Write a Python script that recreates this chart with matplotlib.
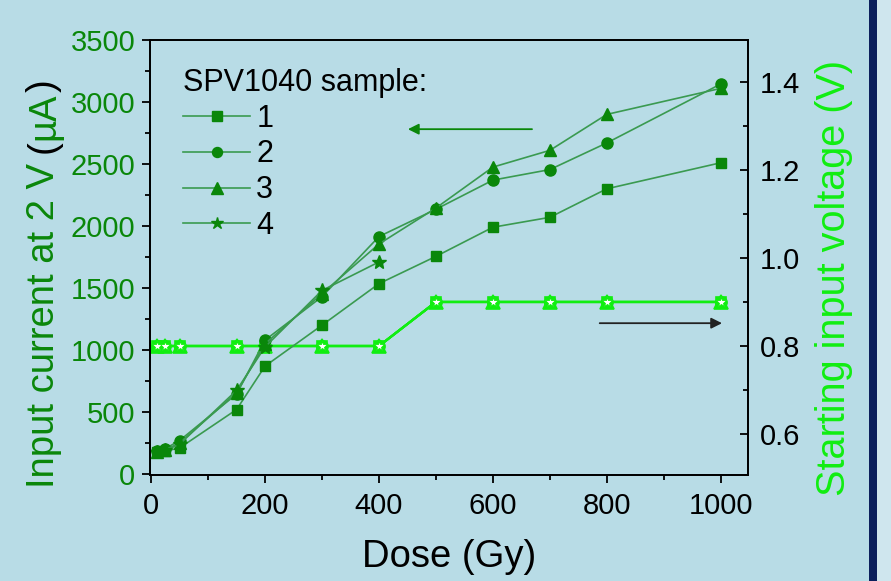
import matplotlib
matplotlib.use("Agg")
import matplotlib.pyplot as plt
from matplotlib.patches import Rectangle
from matplotlib.font_manager import findfont, FontProperties
from matplotlib.ft2font import FT2Font

# ---- data ----
doses = [10, 25, 50, 150, 200, 300, 400, 500, 600, 700, 800, 1000]
sample1 = [180, 185, 210, 520, 870, 1200, 1535, 1755, 1990, 2070, 2300, 2510]
sample2 = [185, 205, 270, 645, 1080, 1430, 1915, 2135, 2370, 2455, 2670, 3145]
sample3 = [180, 195, 250, 655, 1050, 1455, 1855, 2145, 2475, 2610, 2900, 3110]
doses4 = [10, 25, 50, 150, 200, 300, 400]
sample4 = [180, 190, 240, 675, 1025, 1480, 1710]
voltage = [0.8, 0.8, 0.8, 0.8, 0.8, 0.8, 0.8, 0.9, 0.9, 0.9, 0.9, 0.9]
labels = ["1", "2", "3", "4"]

FAM = 'Liberation Sans'
plt.rcParams['font.family'] = [FAM, 'DejaVu Sans']

BG = '#b8dce6'
DKG = '#0a870a'
LNG = '#3a9a50'
BRG = '#11ee11'
W, H = 891, 581

fig = plt.figure(figsize=(W/100, H/100), dpi=100, facecolor=BG)
fig.patches.append(Rectangle((869/W, 0), 8/W, 1, transform=fig.transFigure,
                             facecolor='#0b1f5c', edgecolor='none', zorder=-1))
fig.patches.append(Rectangle((877/W, 0), 14/W, 1, transform=fig.transFigure,
                             facecolor='#cfe6ee', edgecolor='none', zorder=-1))

ax = fig.add_axes([150/W, 1-475/H, 597.5/W, 435/H])
ax.set_facecolor(BG)
ax2 = ax.twinx()

# voltage (right axis) - overlaid markers of the 4 samples
for mk, ms, fc, ew in zip(['s', 'o', '^', '*'], [7, 8, 10.5, 7],
                          [BRG, BRG, BRG, 'white'], [1.2, 1.2, 1.2, 0.6]):
    ax2.plot(doses, voltage, color=BRG, lw=1.6, marker=mk, ms=ms,
             mfc=fc, mec=BRG, mew=ew)

# current (left axis)
series = [(doses, sample1, 's', 7.5), (doses, sample2, 'o', 8),
          (doses, sample3, '^', 9), (doses4, sample4, '*', 10)]
handles = []
for (x, y, mk, ms), lab in zip(series, labels):
    h, = ax.plot(x, y, color=LNG, lw=1.2, marker=mk, ms=ms,
                 mfc=DKG, mec=DKG, label=lab)
    handles.append(h)
ax.set_zorder(ax2.get_zorder() + 1)
ax.patch.set_visible(False)
ax2.patch.set_visible(False)

ax.set_xlim(-2, 1047)
ax.set_ylim(-8, 3500)
ax2.set_ylim(0.507, 1.495)

ax.set_xticks([0, 200, 400, 600, 800, 1000])
ax.set_xticks([100, 300, 500, 700, 900], minor=True)
ax.set_yticks(range(0, 3501, 500))
ax.set_yticks(range(250, 3500, 500), minor=True)
ax2.set_yticks([0.6, 0.8, 1.0, 1.2, 1.4])
ax2.set_yticklabels(['0.6', '0.8', '1.0', '1.2', '1.4'])
ax2.set_yticks([0.7, 0.9, 1.1, 1.3], minor=True)

TS = 21
ax.tick_params(axis='x', which='major', direction='out', length=6, width=1.3,
               labelsize=TS, colors='black', pad=6)
ax.tick_params(axis='x', which='minor', direction='out', length=3.5, width=1.3)
ax.tick_params(axis='y', which='major', direction='out', length=6, width=1.3,
               labelsize=TS, labelcolor=DKG, color='black', pad=4.5)
ax.tick_params(axis='y', which='minor', direction='out', length=3.5, width=1.3)
ax2.tick_params(axis='y', which='major', direction='in', length=6, width=1.3,
                labelsize=TS, labelcolor='black', pad=9)
ax2.tick_params(axis='y', which='minor', direction='in', length=3.5, width=1.3)

for a in (ax, ax2):
    for s in a.spines.values():
        s.set_linewidth(1.3)
        s.set_color('black')

ax.set_xlabel('Dose (Gy)', fontsize=27.5, labelpad=14)

# left y label: green text with black parentheses
LS = 27.5
_font = FT2Font(findfont(FontProperties(family=FAM)))
_font.set_size(LS, 100)
def adv(s):
    return sum(_font.load_char(ord(c)).linearHoriAdvance for c in s) / 65536.0

pieces = [('Input current at 2 V ', DKG), ('(', 'black'),
          ('\u00b5A', DKG), (')', 'black')]
full = ''.join(p for p, _ in pieces)
cy = H - 284.0
y0 = cy - adv(full) / 2
xb = 54.0
off = 0.0
for txt, col in pieces:
    fig.text(xb / W, (y0 + off) / H, txt, rotation=90, rotation_mode='anchor',
             ha='left', va='baseline', fontsize=LS, color=col)
    off += adv(txt)

# right y label
fig.text(845 / W, (H - 277.5) / H, 'Starting input voltage (V)', rotation=90,
         rotation_mode='anchor', ha='center', va='baseline', fontsize=28.5, color=BRG)

leg = ax.legend(handles=handles, title='SPV1040 sample:', loc='upper left',
                bbox_to_anchor=(0.045, 0.95), frameon=False, fontsize=22,
                title_fontsize=22, alignment='left', handlelength=2.2,
                handletextpad=0.2, labelspacing=0.19, borderpad=0.2,
                borderaxespad=0.0, markerscale=0.9)

# direction arrows
ax.annotate('', xy=(0.427, 0.795), xytext=(0.644, 0.795), xycoords='axes fraction',
            arrowprops=dict(arrowstyle='-|>', color=DKG, lw=1.3, mutation_scale=16))
ax.annotate('', xy=(0.962, 0.349), xytext=(0.748, 0.349), xycoords='axes fraction',
            arrowprops=dict(arrowstyle='-|>', color='#222222', lw=1.3, mutation_scale=16))

fig.savefig('out.png', dpi=100, facecolor=BG)
